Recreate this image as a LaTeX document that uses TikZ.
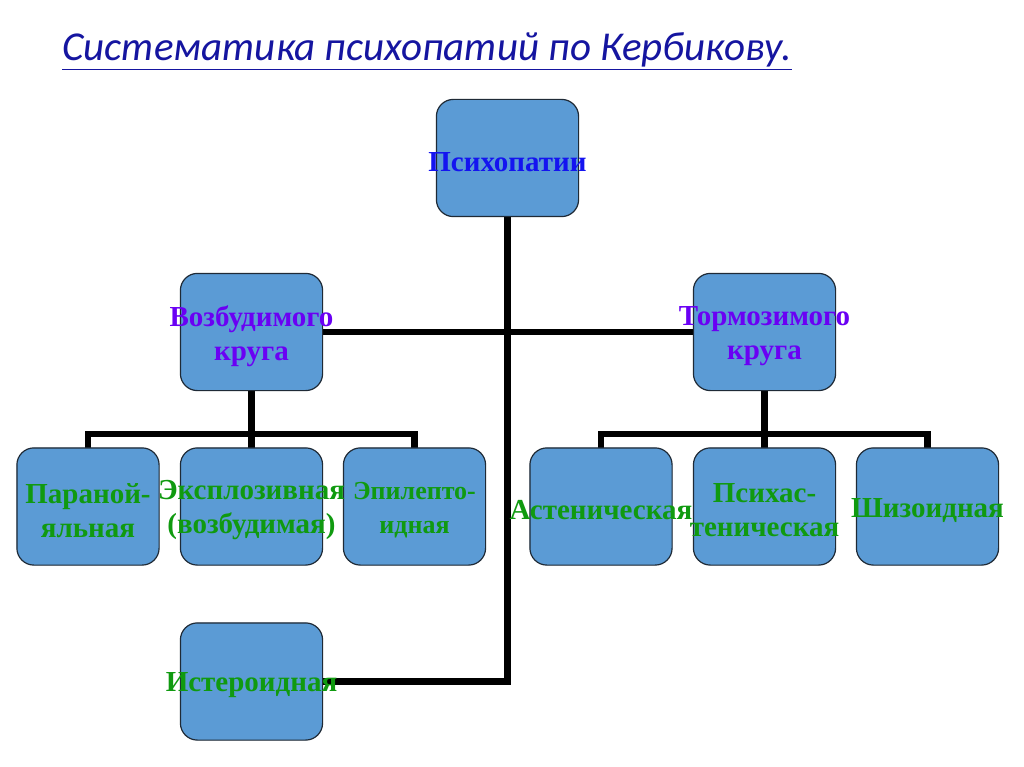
\documentclass[tikz,border=0pt]{standalone}
\usepackage{fontspec}
\setmainfont{Liberation Serif}
\newfontfamily\titlefont{Carlito}
\definecolor{boxfill}{HTML}{5B9BD5}
\definecolor{boxline}{HTML}{1F2A36}
\definecolor{titleblue}{HTML}{1515A0}
\definecolor{topblue}{HTML}{1414F0}
\definecolor{violet}{HTML}{6A00F4}
\definecolor{leafgreen}{HTML}{109A10}
\begin{document}
\begin{tikzpicture}[x=1pt,y=-1pt,
  box/.style={draw=boxline, line width=1.2pt, fill=boxfill, rounded corners=17pt,
              minimum width=141pt, minimum height=116pt, inner sep=0pt},
  conn/.style={line width=6.5pt, black},
  lbl/.style={font=\bfseries\fontsize{29}{34}\selectfont, align=center, inner sep=0pt, yshift=-4pt},
  toplbl/.style={lbl, text=topblue},
  midlbl/.style={lbl, text=violet},
  leaflbl/.style={lbl, text=leafgreen}]
\useasboundingbox (0,0) rectangle (1024,767);
\fill[white] (0,0) rectangle (1024,767);
% title
\node[anchor=base west, inner sep=0pt, text=titleblue,
      font=\titlefont\itshape\fontsize{41}{48}\selectfont] (title) at (62,61)
  {\underline{Систематика психопатий по Кербикову.}};
% boxes
\node[box] (p0) at (507.5,158) {};
\node[box] (vz) at (251.5,332) {};
\node[box] (tz) at (764.5,332) {};
\node[box] (a1) at (88,506.5) {};
\node[box] (a2) at (251.5,506.5) {};
\node[box] (a3) at (414.5,506.5) {};
\node[box] (b1) at (601,506.5) {};
\node[box] (b2) at (764.5,506.5) {};
\node[box] (b3) at (927.5,506.5) {};
\node[box] (ist) at (251.5,681.5) {};
% junctions
\coordinate (jv) at (251.5,434);
\coordinate (jt) at (764.5,434);
% connectors
\draw[conn] (p0.south) -- (p0.south |- ist.east) -- (ist.east);
\draw[conn] (vz.east) -- (tz.west);
\draw[conn] (vz.south) -- (a2.north);
\draw[conn] (a1.north) -- (a1.north |- jv) -- (a3.north |- jv) -- (a3.north);
\draw[conn] (tz.south) -- (b2.north);
\draw[conn] (b1.north) -- (b1.north |- jt) -- (b3.north |- jt) -- (b3.north);
% redraw boxes over connector ends
\foreach \n in {p0,vz,tz,a1,a2,a3,b1,b2,b3,ist}{
  \draw[draw=boxline, line width=1.2pt, fill=boxfill, rounded corners=17pt]
    (\n.south west) rectangle (\n.north east);
}
% labels
\node[toplbl] (t0) at (p0.center) {Психопатии};
\node[midlbl] (tvz) at (vz.center) {Возбудимого\\круга};
\node[midlbl] (ttz) at (tz.center) {Тормозимого\\круга};
\node[leaflbl] (ta1) at (a1.center) {Параной-\\яльная};
\node[leaflbl] (ta2) at (a2.center) {Эксплозивная\\(возбудимая)};
\node[leaflbl, font=\bfseries\fontsize{26}{34}\selectfont] (ta3) at (a3.center) {Эпилепто-\\идная};
\node[leaflbl] (tb1) at (b1.center) {Астеническая};
\node[leaflbl] (tb2) at (b2.center) {Психас-\\теническая};
\node[leaflbl] (tb3) at (b3.center) {Шизоидная};
\node[leaflbl] (tist) at (ist.center) {Истероидная};
\end{tikzpicture}
\end{document}
